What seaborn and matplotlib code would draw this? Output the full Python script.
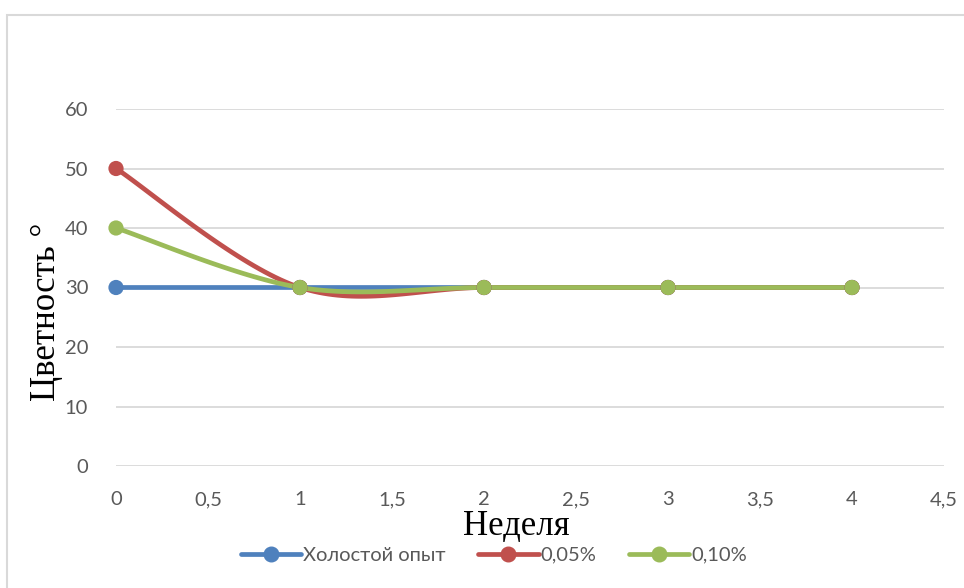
import numpy as np
import pandas as pd
import matplotlib
matplotlib.use("Agg")
import matplotlib.pyplot as plt
from matplotlib.lines import Line2D
from matplotlib.patches import Rectangle
import seaborn as sns

# data
weeks = [0, 1, 2, 3, 4]
blank = [30, 30, 30, 30, 30]
c005 = [50, 30, 30, 30, 30]
c010 = [40, 30, 30, 30, 30]
series_names = ["Холостой опыт", "0,05%", "0,10%"]
colors = ["#4F81BD", "#C0504D", "#9BBB59"]
yticks = [0, 10, 20, 30, 40, 50, 60]
xticks = [0, 0.5, 1, 1.5, 2, 2.5, 3, 3.5, 4, 4.5]


def smooth(xs, ys, n=40):
    # excel-like smoothed line (catmull-rom as bezier segments)
    p = np.column_stack([xs, ys]).astype(float)
    p = np.vstack([p[0], p, p[-1]])
    out = []
    for i in range(1, len(p) - 2):
        p0, p1, p2, p3 = p[i - 1], p[i], p[i + 1], p[i + 2]
        c1 = p1 + (p2 - p0) / 6
        c2 = p2 - (p3 - p1) / 6
        t = np.linspace(0, 1, n)[:, None]
        seg = ((1 - t) ** 3) * p1 + 3 * t * (1 - t) ** 2 * c1 + 3 * t ** 2 * (1 - t) * c2 + t ** 3 * p2
        out.append(seg if i == 1 else seg[1:])
    out = np.round(np.vstack(out), 9)
    return out[:, 0], out[:, 1]


pts = pd.DataFrame({
    "x": weeks * 3,
    "y": blank + c005 + c010,
    "s": [series_names[0]] * 5 + [series_names[1]] * 5 + [series_names[2]] * 5,
})
curves = []
for name, ys in zip(series_names, [blank, c005, c010]):
    cx, cy = smooth(weeks, ys)
    curves.append(pd.DataFrame({"x": cx, "y": cy, "s": name}))
curves = pd.concat(curves, ignore_index=True)

sns.set_style("white")
plt.rcParams["font.family"] = ["Lato", "DejaVu Sans"]
plt.rcParams["path.simplify"] = False

fig = plt.figure(figsize=(9.64, 5.88), dpi=100)
fig.patches.append(Rectangle((7 / 964, -0.1), 1.2, 1 - 15 / 588 + 0.1, transform=fig.transFigure,
                             fill=False, edgecolor="#d9d9d9", linewidth=1.5))
ax = fig.add_axes([116 / 964, 1 - 466 / 588, (944 - 116) / 964, (466 - 109) / 588])

pal = dict(zip(series_names, colors))
for name in series_names:
    d = curves[curves.s == name]
    ax.plot(d.x.values, d.y.values, color=pal[name], lw=3.4, solid_capstyle="round",
            solid_joinstyle="round", zorder=3, clip_on=False, snap=False)
sns.scatterplot(data=pts, x="x", y="y", hue="s", palette=pal, s=120, edgecolor="none",
                legend=False, ax=ax, zorder=4, clip_on=False)

ax.set_xlim(0, 4.5)
ax.set_ylim(0, 60)
ax.set_yticks(yticks)
ax.set_xticks(xticks)
ax.set_xticklabels([str(v).replace(".", ",") if v % 1 else str(int(v)) for v in xticks])
ax.tick_params(axis="both", length=0, labelsize=14.5, labelcolor="#595959")
ax.tick_params(axis="x", pad=18)
ax.tick_params(axis="y", pad=20)
ax.grid(axis="y", color="#d9d9d9", lw=1.3)
ax.set_axisbelow(True)
for sp in ax.spines.values():
    sp.set_visible(False)

ax.set_xlabel("")
ax.set_ylabel("")
fig.text(516 / 964, 1 - 527 / 588, "Неделя", family="Liberation Serif", fontsize=25,
         ha="center", va="center", color="black")
fig.text(47 / 964, 1 - 312 / 588, "Цветность °", family="Liberation Serif", fontsize=25,
         rotation=90, ha="center", va="center", color="black")

handles = [Line2D([0], [0], color=c, lw=3.4, marker="o", markersize=10.5) for c in colors]
fig.legend(handles, series_names, loc="center", bbox_to_anchor=(494 / 964, 1 - 555 / 588),
           ncol=3, frameon=False, fontsize=14.5, labelcolor="#595959", handlelength=3.0,
           handletextpad=0.1, columnspacing=1.6)

fig.savefig("out.png", dpi=100)
